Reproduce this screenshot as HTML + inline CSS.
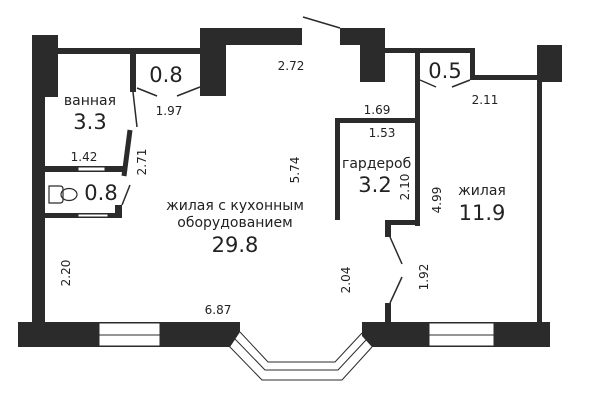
<!DOCTYPE html>
<html><head><meta charset="utf-8"><style>
html,body{margin:0;padding:0;background:#fff;}
svg{display:block;}
text{font-family:"DejaVu Sans","Liberation Sans",sans-serif;fill:#222;}
</style></head><body>
<svg width="600" height="400" viewBox="0 0 600 400" xmlns="http://www.w3.org/2000/svg">
<g fill="#2b2b2b">
<rect x="32" y="35" width="26" height="62"/>
<rect x="32" y="95" width="13" height="230"/>
<rect x="56" y="48" width="146" height="6"/>
<rect x="200" y="28" width="26" height="68"/>
<rect x="224" y="28" width="78" height="17"/>
<rect x="340" y="28" width="45" height="17"/>
<rect x="360" y="44" width="25" height="38"/>
<rect x="383" y="48" width="92" height="5"/>
<rect x="470" y="48" width="5" height="32"/>
<rect x="470" y="75" width="70" height="5"/>
<rect x="537" y="45" width="25" height="37"/>
<rect x="537" y="80" width="5" height="244"/>
<rect x="415" y="50" width="5" height="176"/>
<rect x="335" y="118" width="85" height="5"/>
<rect x="335" y="118" width="5" height="102"/>
<rect x="385" y="220" width="35" height="5"/>
<rect x="385" y="220" width="6" height="17"/>
<rect x="385" y="303" width="6" height="22"/>
<rect x="130" y="50" width="6" height="42"/>
<rect x="45" y="166" width="80" height="6"/>
<rect x="45" y="213" width="77" height="5"/>
<rect x="115" y="205" width="7" height="13"/>
<path d="M18 322 H240 V332 L230 347 H18 Z"/>
<path d="M362 322 H550 V347 H372 L362 336 Z"/>
</g>
<g fill="#fff" stroke="#2b2b2b" stroke-width="1">
<rect x="99" y="323" width="61" height="23"/>
<rect x="429" y="323" width="65" height="23"/>
<rect x="78" y="167" width="27" height="4"/>
<rect x="78" y="214" width="30" height="3"/>
</g>
<g stroke="#2b2b2b" stroke-width="1" fill="none">
<line x1="99" y1="335" x2="160" y2="335"/>
<line x1="429" y1="335" x2="494" y2="335"/>
<polyline points="240,332 268,362 335,362 362,333"/>
<polyline points="235,339 265,370 338,370 366,340"/>
<polyline points="229,346 262,380 342,380 372,347"/>
<line x1="303" y1="17" x2="340" y2="28" stroke-width="1.5"/>
<line x1="137" y1="88" x2="157" y2="96" stroke-width="1.5"/>
<line x1="177" y1="96" x2="200" y2="87" stroke-width="1.5"/>
<line x1="420" y1="80" x2="436" y2="87" stroke-width="1.5"/>
<line x1="452" y1="87" x2="470" y2="80" stroke-width="1.5"/>
<line x1="133" y1="92" x2="137" y2="127" stroke-width="1.5"/>
<line x1="130" y1="185" x2="122" y2="205" stroke-width="1.5"/>
<line x1="390" y1="237" x2="402" y2="264" stroke-width="1.5"/>
<line x1="402" y1="277" x2="390" y2="303" stroke-width="1.5"/>
<line x1="130" y1="130" x2="124" y2="176" stroke="#2b2b2b" stroke-width="5"/>
<path d="M49 186 H60 Q63 186 63 189 V200 Q63 203 60 203 H49 Z" stroke-width="1.2"/>
<ellipse cx="69" cy="194.5" rx="8" ry="6" stroke-width="1.2"/>
</g>
<g font-size="14">
<text x="90" y="105" text-anchor="middle">ванная</text>
<text x="235" y="210" text-anchor="middle">жилая с кухонным</text>
<text x="235" y="227" text-anchor="middle">оборудованием</text>
<text x="342" y="168">гардероб</text>
<text x="482" y="195" text-anchor="middle">жилая</text>
</g>
<g font-size="21">
<text x="90" y="129" text-anchor="middle">3.3</text>
<text x="166" y="82" text-anchor="middle">0.8</text>
<text x="101" y="200" text-anchor="middle">0.8</text>
<text x="235" y="252" text-anchor="middle">29.8</text>
<text x="375" y="192" text-anchor="middle">3.2</text>
<text x="482" y="220" text-anchor="middle">11.9</text>
<text x="445" y="78" text-anchor="middle">0.5</text>
</g>
<g font-size="12">
<text x="291" y="70" text-anchor="middle">2.72</text>
<text x="169" y="115" text-anchor="middle">1.97</text>
<text x="84" y="161" text-anchor="middle">1.42</text>
<text x="218" y="314" text-anchor="middle">6.87</text>
<text x="377" y="114" text-anchor="middle">1.69</text>
<text x="382" y="137" text-anchor="middle">1.53</text>
<text x="485" y="104" text-anchor="middle">2.11</text>
<text transform="translate(146,162) rotate(-90)" text-anchor="middle">2.71</text>
<text transform="translate(299,170) rotate(-90)" text-anchor="middle">5.74</text>
<text transform="translate(70,273) rotate(-90)" text-anchor="middle">2.20</text>
<text transform="translate(350,280) rotate(-90)" text-anchor="middle">2.04</text>
<text transform="translate(428,277) rotate(-90)" text-anchor="middle">1.92</text>
<text transform="translate(409,187) rotate(-90)" text-anchor="middle">2.10</text>
<text transform="translate(441,200) rotate(-90)" text-anchor="middle">4.99</text>
</g>
</svg>
</body></html>
